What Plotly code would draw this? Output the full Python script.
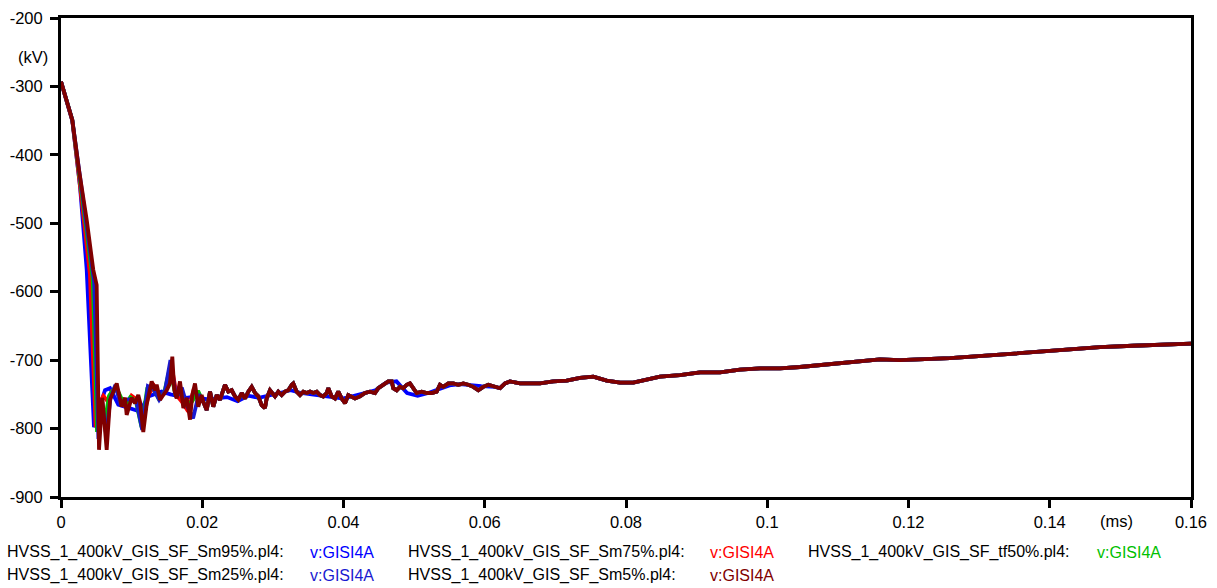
import plotly.graph_objects as go

# --- time axis (ms) and voltages (kV) -------------------------------------

# Sm5% trace, first 0.02 ms (fast front and the ringing after it)
sm5_t = [0, 0.0016, 0.00255, 0.00364, 0.00457, 0.00505, 0.00538, 0.00585, 0.00647,
         0.00694, 0.00789, 0.00859, 0.00906, 0.0093, 0.01001, 0.01048, 0.01094,
         0.01119, 0.01165, 0.01213, 0.01284, 0.01331, 0.01355, 0.01402, 0.01448,
         0.01497, 0.01543, 0.01576, 0.01604, 0.01638, 0.01685, 0.01732, 0.0178,
         0.01827, 0.01859, 0.01897, 0.01944, 0.01992]
sm5_v = [-293, -349, -422, -495, -568, -590, -831, -755, -831,
         -758, -734, -768, -755, -780, -755, -763, -751,
         -761, -805, -765, -731, -744, -736, -758, -751,
         -744, -734, -695, -744, -756, -731, -770, -755,
         -787, -751, -734, -768, -751]

# common section 0.02 .. 0.061 ms
mid_t = [0.02015, 0.02063, 0.0211, 0.02156, 0.02205, 0.02251, 0.02322, 0.02369,
         0.02417, 0.02464, 0.0251, 0.02559, 0.02605, 0.02652, 0.027, 0.02747,
         0.02794, 0.02842, 0.02888, 0.02912, 0.02959, 0.0303, 0.03077, 0.03125,
         0.03172, 0.03218, 0.03267, 0.03289, 0.03337, 0.03384, 0.03431, 0.03479,
         0.03526, 0.03572, 0.03621, 0.03667, 0.03714, 0.03762, 0.03785, 0.03833,
         0.0388, 0.03926, 0.03974, 0.04021, 0.04068, 0.04163, 0.04234, 0.04304,
         0.04375, 0.04446, 0.04493, 0.04564, 0.04634, 0.04682, 0.04705, 0.04753,
         0.048, 0.04847, 0.04895, 0.04941, 0.04988, 0.05036, 0.05107, 0.05178,
         0.05249, 0.0532, 0.05366, 0.05413, 0.05484, 0.05555, 0.05625, 0.05696,
         0.05767, 0.05838, 0.05909, 0.05979, 0.0605]
mid_v = [-761, -773, -746, -768, -751, -758, -736, -746,
         -744, -753, -758, -748, -756, -746, -739, -748,
         -753, -766, -770, -756, -744, -753, -746, -751,
         -746, -744, -736, -734, -746, -751, -746, -748,
         -746, -748, -746, -751, -753, -748, -741, -753,
         -756, -746, -756, -763, -751, -756, -753, -748,
         -746, -748, -741, -736, -731, -731, -741, -744,
         -739, -741, -736, -734, -741, -748, -746, -748,
         -748, -746, -736, -739, -734, -734, -736, -734,
         -736, -739, -744, -739, -736]

# common slow recovery 0.061 .. 0.16 ms
tail_t = [0.06145, 0.06216, 0.06287, 0.06357, 0.06499, 0.06641, 0.06782, 0.06971,
          0.0716, 0.07349, 0.07537, 0.07727, 0.07915, 0.08103, 0.08293, 0.08481,
          0.08764, 0.09048, 0.09331, 0.09614, 0.09897, 0.1018, 0.10464, 0.10747,
          0.1103, 0.11313, 0.11596, 0.1188, 0.12587, 0.13296, 0.13763, 0.1424,
          0.14711, 0.15179, 0.15656, 0.16]
tail_v = [-739, -741, -734, -731, -734, -734, -734, -731,
          -730, -726, -724, -730, -733, -733, -729, -724,
          -722, -718, -718, -714, -712, -712, -710, -707,
          -705, -702, -699, -700, -697, -692, -688, -684,
          -681, -679, -678, -676]

# Sm95% trace up to 0.06 ms (smoother oscillation)
sm95_t = [0, 0.0016, 0.0027, 0.00364, 0.00467, 0.0054, 0.00623, 0.00694, 0.00811,
          0.00906, 0.01048, 0.01119, 0.01236, 0.01426, 0.0155, 0.0165, 0.0178,
          0.019, 0.0205, 0.022, 0.0235, 0.025, 0.0265, 0.028, 0.0295, 0.031,
          0.0325, 0.034, 0.0355, 0.037, 0.0385, 0.04, 0.0415, 0.043, 0.0445,
          0.046, 0.0475, 0.049, 0.0505, 0.052, 0.0535, 0.055, 0.0565, 0.058, 0.0595]
sm95_v = [-293, -350, -447, -568, -798, -770, -744, -741, -765,
          -768, -773, -775, -753, -746, -750, -752, -755,
          -753, -757, -756, -754, -760, -752, -755, -752, -748,
          -744, -748, -750, -752, -753, -756, -752, -748, -744,
          -733, -731, -748, -752, -748, -742, -737, -735, -737, -738]

# Sm75% trace, first 0.02 ms
sm75_t = [0, 0.0016, 0.0026, 0.0035, 0.0041, 0.0049, 0.0054, 0.006, 0.0066, 0.0072,
          0.0079, 0.0086, 0.0093, 0.01, 0.0108, 0.0116, 0.0124, 0.0132, 0.014,
          0.0148, 0.0156, 0.0164, 0.0172, 0.018, 0.0188, 0.0196]
sm75_v = [-293, -350, -437, -520, -575, -798, -765, -752, -760, -745,
          -740, -762, -770, -752, -758, -790, -750, -738, -755,
          -745, -705, -752, -762, -775, -742, -758]

# tf50% trace, first 0.02 ms
tf50_t = [0, 0.0016, 0.0026, 0.0036, 0.0045, 0.0051, 0.0056, 0.0062, 0.0068, 0.0075,
          0.0082, 0.009, 0.0098, 0.0106, 0.0114, 0.0122, 0.013, 0.0138, 0.0146,
          0.0154, 0.0162, 0.017, 0.0178, 0.0186, 0.0194]
tf50_v = [-293, -349, -430, -515, -582, -805, -760, -790, -752, -742,
          -748, -766, -754, -760, -798, -742, -740, -756, -748,
          -712, -750, -748, -765, -760, -745]

# Sm25% trace, first 0.02 ms
sm25_t = [0, 0.0016, 0.0026, 0.0036, 0.0047, 0.0053, 0.0058, 0.0064, 0.007, 0.0077,
          0.0084, 0.0091, 0.0099, 0.0107, 0.0115, 0.0123, 0.0131, 0.0139, 0.0147,
          0.0155, 0.0163, 0.0171, 0.0179, 0.0187, 0.0195]
sm25_v = [-293, -349, -425, -505, -586, -815, -758, -810, -756, -736,
          -765, -758, -757, -762, -802, -738, -742, -758, -746,
          -700, -754, -740, -768, -785, -750]

x_ticks = [0, 0.02, 0.04, 0.06, 0.08, 0.1, 0.12, 0.14, 0.16]
x_tick_text = ["0", "0.02", "0.04", "0.06", "0.08", "0.1", "0.12", "0.14", "0.16"]
y_ticks = [-900, -800, -700, -600, -500, -400, -300, -200]
y_tick_text = ["-900", "-800", "-700", "-600", "-500", "-400", "-300", "-200"]

files = ["HVSS_1_400kV_GIS_SF_Sm95%.pl4:", "HVSS_1_400kV_GIS_SF_Sm75%.pl4:",
         "HVSS_1_400kV_GIS_SF_tf50%.pl4:", "HVSS_1_400kV_GIS_SF_Sm25%.pl4:",
         "HVSS_1_400kV_GIS_SF_Sm5%.pl4:"]
signal = "v:GISI4A"
colors = ["#0000ff", "#ff0000", "#00c000", "#1a1ad0", "#800000"]

series = [
    (sm95_t + tail_t, sm95_v + tail_v),
    (sm75_t + mid_t + tail_t, sm75_v + mid_v + tail_v),
    (tf50_t + mid_t + tail_t, tf50_v + mid_v + tail_v),
    (sm25_t + mid_t + tail_t, sm25_v + mid_v + tail_v),
    (sm5_t + mid_t + tail_t, sm5_v + mid_v + tail_v),
]

FONT = "Liberation Sans"
FS = 16.5
LEG_FS = 16

fig = go.Figure()
for (t, v), c, name in zip(series, colors, files):
    fig.add_trace(go.Scatter(x=t, y=v, mode="lines", name=name,
                             line=dict(color=c, width=3.8), showlegend=False))

fig.update_layout(
    width=1217, height=588,
    margin=dict(l=61, r=26, t=18, b=91, autoexpand=False),
    paper_bgcolor="white", plot_bgcolor="white",
    font=dict(family=FONT, size=FS, color="black"),
)
fig.update_xaxes(range=[0, 0.16], tickvals=x_ticks, ticktext=x_tick_text,
                 showgrid=False, zeroline=False, showline=True, linecolor="black",
                 linewidth=3, mirror=True, ticks="outside", ticklen=8, tickwidth=3,
                 tickcolor="black", tickfont=dict(size=FS), automargin=False)
fig.update_yaxes(range=[-900, -200], tickvals=y_ticks, ticktext=y_tick_text,
                 showgrid=False, zeroline=False, showline=True, linecolor="black",
                 linewidth=3, mirror=True, ticks="outside", ticklen=8, tickwidth=3,
                 tickcolor="black", tickfont=dict(size=FS), ticklabelstandoff=4,
                 automargin=False)

# axis units
fig.add_annotation(x=0.1495, xref="x", y=1 - (521 - 18) / 479, yref="paper",
                   text="(ms)", showarrow=False, xanchor="center", yanchor="middle",
                   font=dict(size=FS))
fig.add_annotation(x=-0.0095, xref="paper", y=-257, yref="y", text="(kV)",
                   showarrow=False, xanchor="right", yanchor="middle",
                   font=dict(size=FS))

# file/signal legend under the plot
legend_cols = [(7, 310), (408, 710), (808, 1097)]
for i, (fname, c) in enumerate(zip(files, colors)):
    row, col = divmod(i, 3)
    fx, sx = legend_cols[col]
    ypix = 552 + 23 * row
    yp = 1 - (ypix - 18) / 479
    fig.add_annotation(x=(fx - 61) / 1130, xref="paper", y=yp, yref="paper",
                       text=fname, showarrow=False, xanchor="left", yanchor="middle",
                       xshift=-2, font=dict(size=LEG_FS, color="black"))
    fig.add_annotation(x=(sx - 61) / 1130, xref="paper", y=yp, yref="paper",
                       text=signal, showarrow=False, xanchor="left", yanchor="middle",
                       xshift=-2, font=dict(size=LEG_FS, color=c))

fig.write_html("out.html", config={"displayModeBar": False})
